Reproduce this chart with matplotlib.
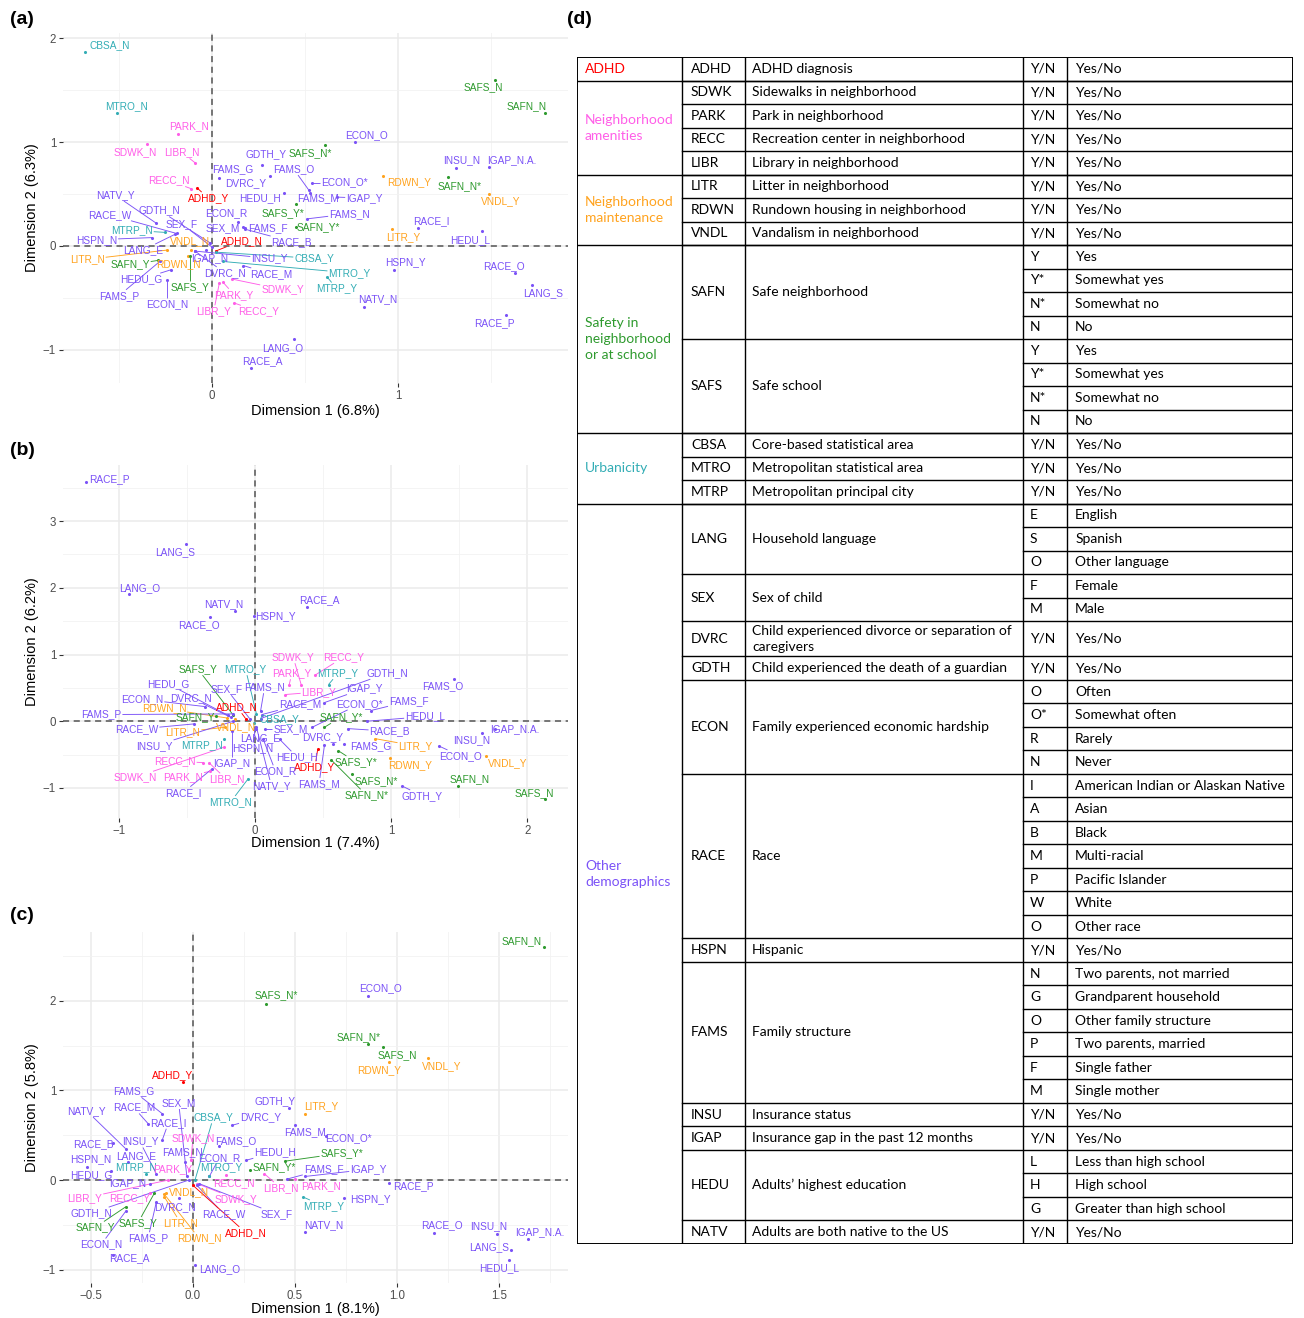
import matplotlib
matplotlib.use("Agg")
import matplotlib.pyplot as plt
import numpy as np

plt.rcParams.update({
    "font.family": ["Liberation Sans", "DejaVu Sans"],
    "axes.unicode_minus": True,
})

GROUP_COLORS = {
    "adhd": "#FF0000",
    "amenities": "#FF5EE8",
    "maintenance": "#FFA31F",
    "safety": "#2E9A2E",
    "urban": "#33ADB5",
    "other": "#7B52F7",
}

CODE_GROUP = {
    "ADHD": "adhd",
    "SDWK": "amenities", "PARK": "amenities", "RECC": "amenities", "LIBR": "amenities",
    "LITR": "maintenance", "RDWN": "maintenance", "VNDL": "maintenance",
    "SAFN": "safety", "SAFS": "safety",
    "CBSA": "urban", "MTRO": "urban", "MTRP": "urban",
}

# ---- panel (a): category coordinates (dim1, dim2) ----
A_POINTS = [
    ("CBSA_N", -0.68, 1.87), ("MTRO_N", -0.51, 1.28), ("PARK_N", -0.18, 1.08),
    ("SDWK_N", -0.35, 0.98), ("LIBR_N", -0.09, 0.80), ("RECC_N", -0.11, 0.55),
    ("ADHD_Y", -0.08, 0.56), ("GDTH_Y", 0.27, 0.78), ("FAMS_G", 0.04, 0.65),
    ("DVRC_Y", 0.31, 0.67), ("FAMS_O", 0.52, 0.54), ("FAMS_M", 0.53, 0.51),
    ("IGAP_Y", 0.67, 0.47), ("ECON_O*", 0.54, 0.61), ("ECON_O", 0.77, 1.00),
    ("SAFS_N*", 0.61, 0.97), ("HEDU_H", 0.39, 0.51), ("SAFS_Y*", 0.45, 0.40),
    ("FAMS_N", 0.51, 0.26), ("ECON_R", 0.14, 0.23), ("SEX_M", 0.17, 0.18),
    ("FAMS_F", 0.18, 0.17), ("SAFN_Y*", 0.45, 0.18), ("RACE_B", 0.18, 0.16),
    ("ADHD_N", 0.02, -0.05), ("INSU_Y", -0.09, -0.05), ("CBSA_Y", 0.02, -0.06),
    ("MTRO_Y", 0.06, -0.15), ("MTRP_Y", 0.62, -0.30), ("IGAP_N", -0.03, -0.04),
    ("DVRC_N", -0.09, -0.05), ("RACE_M", 0.17, -0.19), ("SDWK_Y", 0.11, -0.32),
    ("PARK_Y", 0.06, -0.35), ("LIBR_Y", 0.04, -0.36), ("RECC_Y", 0.12, -0.55),
    ("HSPN_Y", 0.98, -0.23), ("NATV_N", 0.82, -0.59), ("RDWN_Y", 0.92, 0.67),
    ("LITR_Y", 0.97, 0.16), ("RACE_I", 1.11, 0.17), ("INSU_N", 1.31, 0.75),
    ("IGAP_N.A.", 1.49, 0.76), ("SAFN_N*", 1.27, 0.66), ("VNDL_Y", 1.49, 0.50),
    ("HEDU_L", 1.45, 0.14), ("RACE_O", 1.63, -0.26), ("LANG_S", 1.72, -0.38),
    ("RACE_P", 1.58, -0.67), ("SAFS_N", 1.52, 1.60), ("SAFN_N", 1.79, 1.28),
    ("LANG_O", 0.44, -0.90), ("RACE_A", 0.21, -1.18), ("NATV_Y", -0.30, 0.22),
    ("RACE_W", -0.19, 0.12), ("GDTH_N", -0.01, 0.03), ("MTRP_N", -0.25, 0.13),
    ("SEX_F", 0.00, -0.01), ("HSPN_N", -0.32, 0.08), ("LANG_E", -0.20, 0.11),
    ("VNDL_N", -0.11, -0.04), ("LITR_N", -0.24, -0.04), ("SAFN_Y", -0.29, -0.14),
    ("RDWN_N", -0.13, -0.10), ("HEDU_G", -0.22, -0.23), ("FAMS_P", -0.28, -0.15),
    ("ECON_N", -0.24, -0.33), ("SAFS_Y", -0.12, -0.10),
]
# repelled label positions for panel (a)
A_LABELS = {
    "CBSA_N": (-0.55, 1.93), "MTRO_N": (-0.46, 1.35), "PARK_N": (-0.12, 1.15),
    "SDWK_N": (-0.41, 0.90), "LIBR_N": (-0.16, 0.90), "RECC_N": (-0.23, 0.63),
    "ADHD_Y": (-0.02, 0.46), "GDTH_Y": (0.29, 0.88), "FAMS_G": (0.11, 0.74),
    "DVRC_Y": (0.18, 0.60), "FAMS_O": (0.44, 0.74), "FAMS_M": (0.57, 0.46),
    "IGAP_Y": (0.82, 0.46), "ECON_O*": (0.71, 0.61), "ECON_O": (0.83, 1.07),
    "SAFS_N*": (0.53, 0.89), "HEDU_H": (0.26, 0.46), "SAFS_Y*": (0.38, 0.32),
    "FAMS_N": (0.74, 0.31), "ECON_R": (0.08, 0.32), "SEX_M": (0.06, 0.17),
    "FAMS_F": (0.30, 0.17), "SAFN_Y*": (0.57, 0.18), "RACE_B": (0.43, 0.04),
    "ADHD_N": (0.16, 0.05), "INSU_Y": (0.31, -0.12), "CBSA_Y": (0.55, -0.12),
    "MTRO_Y": (0.74, -0.26), "MTRP_Y": (0.67, -0.41), "IGAP_N": (-0.01, -0.12),
    "DVRC_N": (0.07, -0.26), "RACE_M": (0.32, -0.27), "SDWK_Y": (0.38, -0.42),
    "PARK_Y": (0.12, -0.47), "LIBR_Y": (0.01, -0.63), "RECC_Y": (0.25, -0.63),
    "HSPN_Y": (1.04, -0.16), "NATV_N": (0.89, -0.51), "RDWN_Y": (1.06, 0.61),
    "LITR_Y": (1.03, 0.08), "RACE_I": (1.18, 0.24), "INSU_N": (1.34, 0.83),
    "IGAP_N.A.": (1.61, 0.83), "SAFN_N*": (1.33, 0.58), "VNDL_Y": (1.55, 0.43),
    "HEDU_L": (1.39, 0.06), "RACE_O": (1.57, -0.19), "LANG_S": (1.78, -0.45),
    "RACE_P": (1.52, -0.74), "SAFS_N": (1.46, 1.53), "SAFN_N": (1.69, 1.35),
    "LANG_O": (0.38, -0.98), "RACE_A": (0.27, -1.11), "NATV_Y": (-0.52, 0.49),
    "RACE_W": (-0.55, 0.30), "GDTH_N": (-0.28, 0.34), "MTRP_N": (-0.43, 0.15),
    "SEX_F": (-0.16, 0.21), "HSPN_N": (-0.62, 0.06), "LANG_E": (-0.37, -0.04),
    "VNDL_N": (-0.12, 0.05), "LITR_N": (-0.67, -0.13), "SAFN_Y": (-0.44, -0.18),
    "RDWN_N": (-0.18, -0.18), "HEDU_G": (-0.38, -0.32), "FAMS_P": (-0.50, -0.48),
    "ECON_N": (-0.24, -0.56), "SAFS_Y": (-0.12, -0.40),
}

# ---- panel (b) ----
B_POINTS = [
    ("RACE_P", -1.24, 3.58), ("LANG_S", -0.51, 2.65), ("LANG_O", -0.93, 1.90),
    ("NATV_N", -0.15, 1.65), ("RACE_O", -0.33, 1.56), ("HSPN_Y", -0.01, 1.58),
    ("RACE_A", 0.38, 1.71), ("SDWK_Y", 0.34, 0.54), ("RECC_Y", 0.44, 0.69),
    ("PARK_Y", 0.25, 0.54), ("MTRP_Y", 0.54, 0.55), ("GDTH_N", 0.04, 0.04),
    ("LIBR_Y", 0.22, 0.40), ("IGAP_Y", 0.51, 0.28), ("FAMS_O", 1.46, 0.64),
    ("FAMS_F", 0.85, 0.16), ("ECON_O*", 0.42, -0.09), ("HEDU_L", 0.82, 0.00),
    ("SAFN_Y*", 0.51, -0.09), ("RACE_B", 0.68, -0.11), ("DVRC_Y", 0.57, -0.34),
    ("FAMS_G", 0.65, -0.34), ("LITR_Y", 0.88, -0.26), ("INSU_N", 1.67, -0.17),
    ("IGAP_N.A.", 1.76, -0.12), ("ECON_O", 1.35, -0.37), ("VNDL_Y", 1.70, -0.52),
    ("RDWN_Y", 0.99, -0.55), ("SAFS_Y*", 0.61, -0.44), ("SAFS_N*", 0.71, -0.79),
    ("SAFN_N*", 0.56, -0.58), ("GDTH_Y", 1.08, -0.97), ("SAFN_N", 1.49, -0.97),
    ("SAFS_N", 2.13, -1.17), ("FAMS_M", 0.51, -0.36), ("ADHD_Y", 0.46, -0.42),
    ("HEDU_H", 0.18, -0.27), ("ECON_R", 0.06, -0.27), ("NATV_Y", 0.01, -0.09),
    ("SEX_M", 0.07, -0.12), ("LANG_E", 0.01, -0.11), ("HSPN_N", 0.00, -0.11),
    ("RACE_M", 0.05, 0.10), ("FAMS_N", 0.04, 0.15), ("CBSA_Y", -0.01, -0.02),
    ("MTRO_Y", 0.01, 0.11), ("ADHD_N", -0.07, 0.04), ("SEX_F", -0.04, 0.04),
    ("SAFS_Y", -0.16, 0.09), ("HEDU_G", -0.20, 0.09), ("ECON_N", -0.37, 0.22),
    ("DVRC_N", -0.18, 0.06), ("RDWN_N", -0.21, 0.05), ("SAFN_Y", -0.29, 0.08),
    ("FAMS_P", -0.16, 0.11), ("RACE_W", -0.45, -0.04), ("LITR_N", -0.22, -0.09),
    ("VNDL_N", -0.15, 0.03), ("INSU_Y", -0.16, 0.00), ("MTRP_N", -0.23, -0.26),
    ("IGAP_N", -0.17, -0.14), ("RECC_N", -0.38, -0.62), ("SDWK_N", -0.23, -0.39),
    ("PARK_N", -0.33, -0.75), ("LIBR_N", -0.34, -0.62), ("RACE_I", -0.32, -0.72),
    ("MTRO_N", -0.05, -0.86),
]
B_LABELS = {
    "RACE_P": (-1.07, 3.63), "LANG_S": (-0.59, 2.53), "LANG_O": (-0.85, 2.00),
    "NATV_N": (-0.23, 1.75), "RACE_O": (-0.41, 1.44), "HSPN_Y": (0.15, 1.58),
    "RACE_A": (0.47, 1.82), "SDWK_Y": (0.28, 0.96), "RECC_Y": (0.65, 0.96),
    "PARK_Y": (0.27, 0.72), "MTRP_Y": (0.61, 0.72), "GDTH_N": (0.97, 0.72),
    "LIBR_Y": (0.47, 0.44), "IGAP_Y": (0.80, 0.49), "FAMS_O": (1.38, 0.52),
    "FAMS_F": (1.13, 0.30), "ECON_O*": (0.77, 0.26), "HEDU_L": (1.25, 0.07),
    "SAFN_Y*": (0.63, 0.06), "RACE_B": (0.99, -0.15), "DVRC_Y": (0.50, -0.24),
    "FAMS_G": (0.85, -0.38), "LITR_Y": (1.18, -0.37), "INSU_N": (1.59, -0.28),
    "IGAP_N.A.": (1.91, -0.12), "ECON_O": (1.51, -0.52), "VNDL_Y": (1.86, -0.63),
    "RDWN_Y": (1.14, -0.66), "SAFS_Y*": (0.74, -0.61), "SAFS_N*": (0.89, -0.89),
    "SAFN_N*": (0.82, -1.11), "GDTH_Y": (1.23, -1.12), "SAFN_N": (1.58, -0.86),
    "SAFS_N": (2.05, -1.07), "FAMS_M": (0.47, -0.94), "ADHD_Y": (0.44, -0.69),
    "HEDU_H": (0.31, -0.54), "ECON_R": (0.15, -0.75), "NATV_Y": (0.12, -0.97),
    "SEX_M": (0.26, -0.12), "LANG_E": (0.04, -0.25), "HSPN_N": (-0.02, -0.41),
    "RACE_M": (0.33, 0.25), "FAMS_N": (0.07, 0.51), "CBSA_Y": (0.18, 0.03),
    "MTRO_Y": (-0.07, 0.78), "ADHD_N": (-0.13, 0.21), "SEX_F": (-0.21, 0.48),
    "SAFS_Y": (-0.42, 0.78), "HEDU_G": (-0.64, 0.56), "ECON_N": (-0.83, 0.33),
    "DVRC_N": (-0.47, 0.35), "RDWN_N": (-0.67, 0.19), "SAFN_Y": (-0.44, 0.06),
    "FAMS_P": (-1.13, 0.10), "RACE_W": (-0.87, -0.12), "LITR_N": (-0.53, -0.16),
    "VNDL_N": (-0.14, -0.09), "INSU_Y": (-0.74, -0.37), "MTRP_N": (-0.39, -0.36),
    "IGAP_N": (-0.17, -0.63), "RECC_N": (-0.59, -0.60), "SDWK_N": (-0.88, -0.84),
    "PARK_N": (-0.53, -0.84), "LIBR_N": (-0.21, -0.87), "RACE_I": (-0.53, -1.07),
    "MTRO_N": (-0.18, -1.21),
}

# ---- panel (c) ----
C_POINTS = [
    ("SAFN_N", 1.72, 2.60), ("ECON_O", 0.86, 2.06), ("SAFN_N*", 0.86, 1.52),
    ("SAFS_N", 0.93, 1.49), ("RDWN_Y", 0.96, 1.32), ("VNDL_Y", 1.15, 1.36),
    ("LITR_Y", 0.55, 0.74), ("ECON_O*", 0.65, 0.49), ("FAMS_M", 0.50, 0.62),
    ("SAFS_Y*", 0.45, 0.21), ("IGAP_Y", 0.55, 0.04), ("FAMS_F", 0.46, 0.01),
    ("RACE_P", 0.96, -0.03), ("HSPN_Y", 0.74, -0.20), ("MTRP_Y", 0.54, -0.19),
    ("NATV_N", 0.55, -0.58), ("RACE_O", 1.18, -0.59), ("INSU_N", 1.49, -0.60),
    ("IGAP_N.A.", 1.64, -0.66), ("LANG_S", 1.56, -0.78), ("HEDU_L", 1.55, -0.89),
    ("SAFS_N*", 0.36, 1.97), ("ADHD_Y", -0.05, 1.09), ("GDTH_Y", 0.47, 0.80),
    ("DVRC_Y", 0.19, 0.61), ("CBSA_Y", 0.01, 0.00), ("FAMS_G", -0.15, 0.74),
    ("RACE_M", -0.22, 0.63), ("SEX_M", -0.03, 0.04), ("RACE_I", -0.15, 0.45),
    ("NATV_Y", -0.33, 0.35), ("SDWK_N", -0.01, 0.22), ("FAMS_O", 0.13, 0.38),
    ("RACE_B", -0.39, 0.41), ("INSU_Y", -0.18, 0.07), ("FAMS_N", -0.04, 0.20),
    ("ECON_R", 0.08, 0.04), ("HEDU_H", 0.26, 0.22), ("SAFN_Y*", 0.28, 0.11),
    ("HSPN_N", -0.52, 0.15), ("LANG_E", -0.32, 0.20), ("MTRP_N", -0.23, 0.07),
    ("PARK_Y", -0.02, 0.11), ("MTRO_Y", 0.08, 0.05), ("HEDU_G", -0.40, 0.10),
    ("IGAP_N", -0.21, -0.04), ("RECC_N", 0.16, 0.06), ("LIBR_N", 0.35, 0.07),
    ("PARK_N", 0.50, 0.01), ("LIBR_Y", -0.12, 0.00), ("RECC_Y", -0.21, -0.14),
    ("VNDL_N", -0.13, -0.14), ("SDWK_Y", 0.02, -0.04), ("DVRC_N", -0.07, -0.20),
    ("RACE_W", 0.02, -0.06), ("SEX_F", 0.03, -0.04), ("ADHD_N", 0.00, -0.06),
    ("GDTH_N", -0.02, 0.00), ("ECON_N", -0.33, -0.35), ("SAFN_Y", -0.33, -0.30),
    ("SAFS_Y", -0.19, -0.15), ("FAMS_P", -0.18, -0.25), ("LITR_N", -0.14, -0.19),
    ("RDWN_N", -0.14, -0.16), ("RACE_A", -0.39, -0.84), ("LANG_O", 0.01, -0.95),
]
C_LABELS = {
    "SAFN_N": (1.61, 2.67), "ECON_O": (0.92, 2.14), "SAFN_N*": (0.81, 1.60),
    "SAFS_N": (1.00, 1.40), "RDWN_Y": (0.91, 1.23), "VNDL_Y": (1.22, 1.27),
    "LITR_Y": (0.63, 0.82), "ECON_O*": (0.76, 0.47), "FAMS_M": (0.55, 0.54),
    "SAFS_Y*": (0.73, 0.30), "IGAP_Y": (0.86, 0.12), "FAMS_F": (0.64, 0.12),
    "RACE_P": (1.08, -0.07), "HSPN_Y": (0.87, -0.21), "MTRP_Y": (0.64, -0.29),
    "NATV_N": (0.64, -0.50), "RACE_O": (1.22, -0.50), "INSU_N": (1.45, -0.51),
    "IGAP_N.A.": (1.70, -0.58), "LANG_S": (1.45, -0.75), "HEDU_L": (1.50, -0.98),
    "SAFS_N*": (0.41, 2.06), "ADHD_Y": (-0.10, 1.17), "GDTH_Y": (0.40, 0.88),
    "DVRC_Y": (0.33, 0.70), "CBSA_Y": (0.10, 0.70), "FAMS_G": (-0.29, 0.99),
    "RACE_M": (-0.29, 0.81), "SEX_M": (-0.07, 0.86), "RACE_I": (-0.12, 0.64),
    "NATV_Y": (-0.52, 0.77), "SDWK_N": (0.00, 0.47), "FAMS_O": (0.21, 0.44),
    "RACE_B": (-0.49, 0.40), "INSU_Y": (-0.26, 0.43), "FAMS_N": (-0.05, 0.31),
    "ECON_R": (0.13, 0.25), "HEDU_H": (0.40, 0.31), "SAFN_Y*": (0.40, 0.14),
    "HSPN_N": (-0.50, 0.23), "LANG_E": (-0.28, 0.27), "MTRP_N": (-0.28, 0.14),
    "PARK_Y": (-0.10, 0.12), "MTRO_Y": (0.14, 0.14), "HEDU_G": (-0.50, 0.06),
    "IGAP_N": (-0.32, -0.04), "RECC_N": (0.20, -0.03), "LIBR_N": (0.43, -0.09),
    "PARK_N": (0.63, -0.07), "LIBR_Y": (-0.53, -0.20), "RECC_Y": (-0.31, -0.20),
    "VNDL_N": (-0.02, -0.13), "SDWK_Y": (0.21, -0.21), "DVRC_N": (-0.09, -0.30),
    "RACE_W": (0.15, -0.38), "SEX_F": (0.41, -0.38), "ADHD_N": (0.26, -0.59),
    "GDTH_N": (-0.50, -0.37), "ECON_N": (-0.45, -0.72), "SAFN_Y": (-0.48, -0.53),
    "SAFS_Y": (-0.27, -0.48), "FAMS_P": (-0.22, -0.65), "LITR_N": (-0.06, -0.48),
    "RDWN_N": (0.03, -0.65), "RACE_A": (-0.31, -0.87), "LANG_O": (0.13, -0.99),
}

PANELS = [
    # letter, points, labels, inertia dim1, inertia dim2
    ("(a)", A_POINTS, A_LABELS, "6.8%", "6.3%"),
    ("(b)", B_POINTS, B_LABELS, "7.4%", "6.2%"),
    ("(c)", C_POINTS, C_LABELS, "8.1%", "5.8%"),
]

# ---- table (d) ----
YN = [("Y/N", "Yes/No")]
SAFE_LEVELS = [("Y", "Yes"), ("Y*", "Somewhat yes"), ("N*", "Somewhat no"), ("N", "No")]
TABLE_GROUPS = [
    ("ADHD", "adhd", [("ADHD", "ADHD diagnosis", YN)]),
    ("Neighborhood\namenities", "amenities", [
        ("SDWK", "Sidewalks in neighborhood", YN),
        ("PARK", "Park in neighborhood", YN),
        ("RECC", "Recreation center in neighborhood", YN),
        ("LIBR", "Library in neighborhood", YN),
    ]),
    ("Neighborhood\nmaintenance", "maintenance", [
        ("LITR", "Litter in neighborhood", YN),
        ("RDWN", "Rundown housing in neighborhood", YN),
        ("VNDL", "Vandalism in neighborhood", YN),
    ]),
    ("Safety in\nneighborhood\nor at school", "safety", [
        ("SAFN", "Safe neighborhood", SAFE_LEVELS),
        ("SAFS", "Safe school", SAFE_LEVELS),
    ]),
    ("Urbanicity", "urban", [
        ("CBSA", "Core-based statistical area", YN),
        ("MTRO", "Metropolitan statistical area", YN),
        ("MTRP", "Metropolitan principal city", YN),
    ]),
    ("Other\ndemographics", "other", [
        ("LANG", "Household language", [("E", "English"), ("S", "Spanish"), ("O", "Other language")]),
        ("SEX", "Sex of child", [("F", "Female"), ("M", "Male")]),
        ("DVRC", "Child experienced divorce or separation of\ncaregivers", YN),
        ("GDTH", "Child experienced the death of a guardian", YN),
        ("ECON", "Family experienced economic hardship",
         [("O", "Often"), ("O*", "Somewhat often"), ("R", "Rarely"), ("N", "Never")]),
        ("RACE", "Race", [("I", "American Indian or Alaskan Native"), ("A", "Asian"), ("B", "Black"),
                          ("M", "Multi-racial"), ("P", "Pacific Islander"), ("W", "White"),
                          ("O", "Other race")]),
        ("HSPN", "Hispanic", YN),
        ("FAMS", "Family structure",
         [("N", "Two parents, not married"), ("G", "Grandparent household"),
          ("O", "Other family structure"), ("P", "Two parents, married"),
          ("F", "Single father"), ("M", "Single mother")]),
        ("INSU", "Insurance status", YN),
        ("IGAP", "Insurance gap in the past 12 months", YN),
        ("HEDU", "Adults\u2019 highest education",
         [("L", "Less than high school"), ("H", "High school"), ("G", "Greater than high school")]),
        ("NATV", "Adults are both native to the US", YN),
    ]),
]


def group_color(name: str) -> str:
    return GROUP_COLORS[CODE_GROUP.get(name.split("_")[0], "other")]


def draw_segments(fig, ax, items) -> None:
    """Draw ggrepel-like leader lines from each point to the edge of its label."""
    fig.canvas.draw()
    renderer = fig.canvas.get_renderer()
    inv = ax.transData.inverted()
    for px, py, txt, color in items:
        bb = txt.get_window_extent(renderer)
        p = ax.transData.transform((px, py))
        x0, x1, y0, y1 = bb.x0 - 1, bb.x1 + 1, bb.y0 - 1, bb.y1 + 1
        if x0 <= p[0] <= x1 and y0 <= p[1] <= y1:
            continue
        cx, cy = (x0 + x1) / 2, (y0 + y1) / 2
        dx, dy = cx - p[0], cy - p[1]
        tx = 0.0 if dx == 0 else ((x0 if dx > 0 else x1) - p[0]) / dx
        ty = 0.0 if dy == 0 else ((y0 if dy > 0 else y1) - p[1]) / dy
        t = min(max(tx, ty, 0.0), 1.0)
        end = np.array([p[0] + t * dx, p[1] + t * dy])
        if np.hypot(*(end - p)) < 6:
            continue
        ex, ey = inv.transform(end)
        ax.plot([px, ex], [py, ey], color=color, lw=0.65, zorder=2, solid_capstyle="butt")


def setup_axes(ax, xlim, ylim, xmajor, xminor, ymajor, yminor, xfmt=None) -> None:
    ax.set_xlim(*xlim)
    ax.set_ylim(*ylim)
    ax.set_xticks(xmajor)
    ax.set_xticks(xminor, minor=True)
    ax.set_yticks(ymajor)
    ax.set_yticks(yminor, minor=True)
    if xfmt:
        ax.set_xticklabels([xfmt.format(v).replace("-", "\u2212") for v in xmajor])
    ax.grid(which="major", color="#EBEBEB", lw=1.1, zorder=0)
    ax.grid(which="minor", color="#F2F2F2", lw=0.6, zorder=0)
    ax.set_axisbelow(True)
    for s in ax.spines.values():
        s.set_visible(False)
    ax.tick_params(which="major", length=3, width=0.8, color="#333333",
                   labelsize=8.3, labelcolor="#4D4D4D", pad=2)
    ax.tick_params(which="minor", length=0)
    ax.axhline(0, color="#555555", lw=1.1, ls=(0, (4, 3)), zorder=1)
    ax.axvline(0, color="#555555", lw=1.1, ls=(0, (4, 3)), zorder=1)


fig = plt.figure(figsize=(13.04, 13.18), dpi=100)
W, H = 1304, 1318

panel_boxes = [(33, 383), (465, 818), (932, 1283)]
limits = [
    ((-0.80, 1.914), (-1.32, 2.05), [0, 1], [-0.5, 0.5, 1.5], [-1, 0, 1, 2], [-0.5, 0.5, 1.5], None),
    ((-1.412, 2.30), (-1.45, 3.84), [-1, 0, 1, 2], [-0.5, 0.5, 1.5], [-1, 0, 1, 2, 3],
     [-0.5, 0.5, 1.5, 2.5, 3.5], None),
    ((-0.637, 1.838), (-1.15, 2.77), [-0.5, 0, 0.5, 1.0, 1.5], [-0.25, 0.25, 0.75, 1.25, 1.75],
     [-1, 0, 1, 2], [-0.5, 0.5, 1.5, 2.5], "{:.1f}"),
]
xlabel_y = [-0.061, -0.05, -0.053]
letter_y = [20, 450, 915]

for (letter, points, labels, d1, d2), (top, bot), lim, xly, ly in zip(
        PANELS, panel_boxes, limits, xlabel_y, letter_y):
    ax = fig.add_axes([63 / W, 1 - bot / H, 505 / W, (bot - top) / H])
    setup_axes(ax, *lim)
    ax.set_xlabel(f"Dimension 1 ({d1})", fontsize=10.5, color="black")
    ax.set_ylabel(f"Dimension 2 ({d2})", fontsize=10.5, color="black")
    ax.xaxis.set_label_coords(0.5, xly)
    ax.yaxis.set_label_coords(-0.047, 0.5)
    items = []
    for name, x, y in points:
        c = group_color(name)
        ax.scatter([x], [y], s=5, color=c, zorder=3, linewidths=0)
        lx, lyy = labels[name]
        t = ax.text(lx, lyy, name, color=c, fontsize=7.3, ha="center", va="center", zorder=4)
        items.append((x, y, t, c))
    draw_segments(fig, ax, items)
    fig.text(10 / W, 1 - ly / H, letter, fontsize=14, fontweight="bold", ha="left", va="center")

fig.text(567 / W, 1 - 20 / H, "(d)", fontsize=14, fontweight="bold", ha="left", va="center")

# ---- table (d) ----
tax = fig.add_axes([577 / W, 1 - 1244 / H, 716 / W, 1187 / H])
tax.axis("off")
COLS = [0, 0.1466, 0.2346, 0.6229, 0.6844, 1.0]
PAD = [0.011, 0.0126, 0.0098, 0.0098, 0.0112]
n_units = 0
for _, _, variables in TABLE_GROUPS:
    for code, _, levels in variables:
        n_units += 1.5 if code == "DVRC" else len(levels)
tax.set_xlim(0, 1)
tax.set_ylim(n_units, 0)

tfont = dict(family=["Lato", "DejaVu Sans"], fontsize=10, va="center", ha="left", color="black")
row = 0.0
tax.plot([0, 1], [0, 0], color="black", lw=1.4)
for gname, gkey, variables in TABLE_GROUPS:
    g_start = row
    for code, desc, levels in variables:
        v_start = row
        h = 1.5 if code == "DVRC" else 1.0
        for i, (lv, ldesc) in enumerate(levels):
            yc = row + h / 2
            tax.text(COLS[3] + PAD[3], yc, lv, **tfont)
            tax.text(COLS[4] + PAD[4], yc, ldesc, **tfont)
            row += h
            if i < len(levels) - 1:
                tax.plot([COLS[3], 1], [row, row], color="black", lw=1.0)
        ym = (v_start + row) / 2
        tax.text(COLS[1] + PAD[1], ym, code, **tfont)
        tax.text(COLS[2] + PAD[2], ym, desc, linespacing=1.4, **tfont)
        tax.plot([COLS[1], 1], [row, row], color="black", lw=1.0)
    gfont = dict(tfont, color=GROUP_COLORS[gkey])
    tax.text(COLS[0] + PAD[0], (g_start + row) / 2, gname, linespacing=1.4, **gfont)
    tax.plot([0, 1], [row, row], color="black", lw=1.4 if row == n_units else 1.0)
for i, cx in enumerate(COLS):
    tax.plot([cx, cx], [0, n_units], color="black", lw=1.4 if i in (0, len(COLS) - 1) else 1.0)

fig.savefig("out.png", dpi=100)
